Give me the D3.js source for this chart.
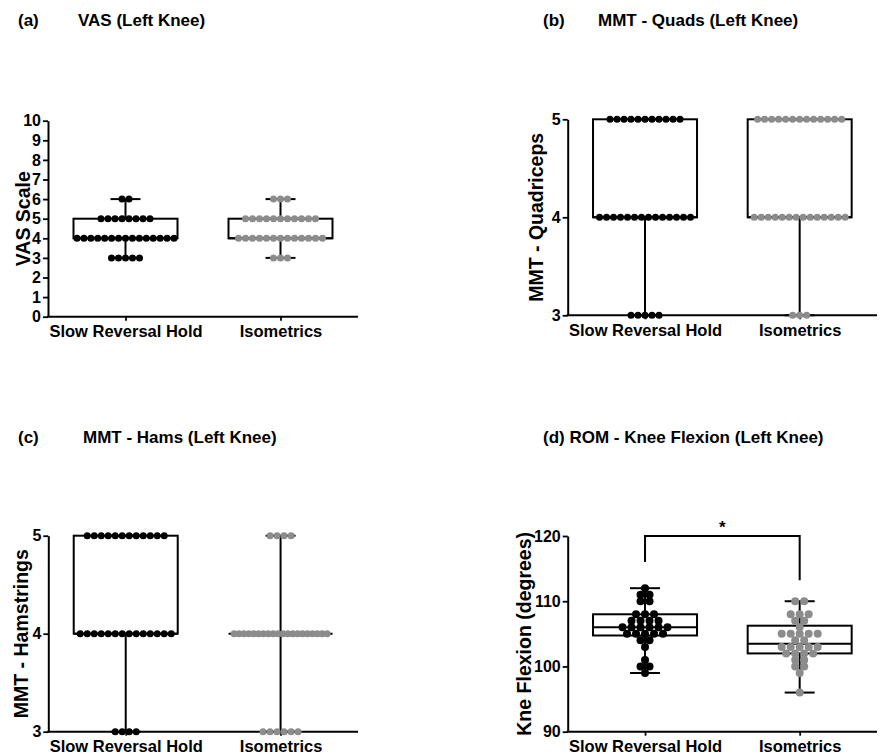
<!DOCTYPE html>
<html>
<head>
<meta charset="utf-8">
<title>Knee outcomes</title>
<style>
    body { margin: 0; background: #fff; }
    svg { display: block; }
    text { font-family: "Liberation Sans", Arial, sans-serif; font-weight: bold; fill: #000; }
    .title { font-family: "Liberation Sans Narrow", "Liberation Sans", sans-serif; font-size: 17px; }
</style>
</head>
<body>
<script src="https://cdn.jsdelivr.net/npm/d3@7/dist/d3.min.js"></script>
<script>
// groups on the x axis
var groups = ["Slow Reversal Hold", "Isometrics"];

// (a) VAS
var vasSlow = [3,3,3,3,3, 4,4,4,4,4,4,4,4,4,4,4,4,4,4,4, 5,5,5,5,5,5,5,5, 6,6];
var vasIso  = [3,3,3, 4,4,4,4,4,4,4,4,4,4,4,4,4, 5,5,5,5,5,5,5,5,5,5,5, 6,6,6];
var vasTicks = [0,1,2,3,4,5,6,7,8,9,10];

// (b) MMT quads
var quadSlow = [3,3,3,3,3, 4,4,4,4,4,4,4,4,4,4,4,4,4,4, 5,5,5,5,5,5,5,5,5,5,5];
var quadIso  = [3,3,3, 4,4,4,4,4,4,4,4,4,4,4,4,4,4, 5,5,5,5,5,5,5,5,5,5,5,5,5];
var mmtTicks = [3,4,5];

// (c) MMT hams
var hamSlow = [3,3,3,3, 4,4,4,4,4,4,4,4,4,4,4,4,4,4, 5,5,5,5,5,5,5,5,5,5,5,5];
var hamIso  = [3,3,3,3,3,3, 4,4,4,4,4,4,4,4,4,4,4,4,4,4,4,4,4,4,4,4, 5,5,5,5];

// (d) ROM knee flexion
var romSlow = [99,100,100,101,103,104,104,105,105,105,105,105,106,106,106,106,106,106,
               107,107,107,107,108,108,108,110,110,111,111,112];
var romIso  = [96,99,100,100,101,101,102,102,102,102,103,103,103,103,103,104,104,
               105,105,105,105,105,106,107,107,108,108,108,110,110];
var romTicks = [90,100,110,120];
var romSig = [{from: 0, to: 1, top: 120, leftEnd: 116, rightEnd: 113.2, mark: "*"}];

var dotColors = ["#000000", "#8c8c8c"];

var panels = [
    {tag: "(a)", title: "VAS (Left Knee)", titleX: 78, titleY: 26, ylabel: "VAS Scale",
     series: [vasSlow, vasIso], domain: [0, 10], ticks: vasTicks,
     x0: 48, x1: 358, top: 120.7, bottom: 316.7, labelX: 23, r: 3.5, gap: 7, maxSpread: 97},
    {tag: "(b)", title: "MMT - Quads (Left Knee)", titleX: 598, titleY: 26, tagX: 543, ylabel: "MMT - Quadriceps",
     series: [quadSlow, quadIso], domain: [3, 5], ticks: mmtTicks,
     x0: 567.7, x1: 877, top: 119.3, bottom: 315.3, labelX: 536, r: 3.5, gap: 7, maxSpread: 97},
    {tag: "(c)", title: "MMT - Hams (Left Knee)", titleX: 83, titleY: 443, ylabel: "MMT - Hamstrings",
     series: [hamSlow, hamIso], domain: [3, 5], ticks: mmtTicks,
     x0: 48.3, x1: 358, top: 535.7, bottom: 731.7, labelX: 21, r: 3.5, gap: 7, maxSpread: 93},
    {tag: "", title: "(d) ROM - Knee Flexion (Left Knee)", titleX: 543, titleY: 443, ylabel: "Kne Flexion (degrees)",
     series: [romSlow, romIso], domain: [90, 120], ticks: romTicks, sig: romSig,
     x0: 567.7, x1: 877, top: 536, bottom: 731.7, labelX: 524, r: 4, gap: 9, maxSpread: 130}
];

var W = 880, H = 754;
var svg = d3.select("body").append("svg").attr("width", W).attr("height", H);

// percentile the way Prism does it: position p*(n+1)
function pct(sorted, p) {
    var n = sorted.length, pos = p * (n + 1);
    if (pos <= 1) return sorted[0];
    if (pos >= n) return sorted[n - 1];
    var lo = Math.floor(pos), f = pos - lo;
    return sorted[lo - 1] + f * (sorted[lo] - sorted[lo - 1]);
}

// rows of equal values, spread sideways and centred
function rowLayout(s, y, cx, p) {
    var out = [];
    d3.rollups(s, function (v) { return v.length; }, function (d) { return d; }).forEach(function (c) {
        var n = c[1], step = p.gap;
        if ((n - 1) * step > p.maxSpread) step = p.maxSpread / (n - 1);
        for (var k = 0; k < n; k++) out.push([cx + (k - (n - 1) / 2) * step, y(c[0])]);
    });
    return out;
}

panels.forEach(function (p) {
    var g = svg.append("g");

    // titles
    if (p.tag) {
        g.append("text").attr("class", "title").attr("x", p.tagX || 18).attr("y", p.titleY).text(p.tag);
    }
    g.append("text").attr("class", "title").attr("x", p.titleX).attr("y", p.titleY).text(p.title);

    var y = d3.scaleLinear().domain(p.domain).range([p.bottom, p.top]);
    var x = d3.scalePoint().domain(groups).range([p.x0, p.x1]).padding(0.5);

    // y axis
    var yAxis = g.append("g").attr("transform", "translate(" + p.x0 + ",0)")
        .call(d3.axisLeft(y).tickValues(p.ticks).tickFormat(d3.format("d"))
            .tickSize(5).tickPadding(2).tickSizeOuter(0));
    yAxis.select(".domain").attr("stroke-width", 2);
    yAxis.selectAll(".tick line").attr("stroke-width", 1.8);
    yAxis.selectAll("text").attr("font-size", 16).attr("font-family", null);

    // x axis
    var xAxis = g.append("g").attr("transform", "translate(0," + p.bottom + ")")
        .call(d3.axisBottom(x).tickSize(4).tickPadding(5).tickSizeOuter(0));
    xAxis.select(".domain").attr("d", "M" + (p.x0 - 1) + ",0H" + p.x1).attr("stroke-width", 2);
    xAxis.selectAll(".tick line").attr("stroke-width", 1.8);
    xAxis.selectAll("text").attr("font-size", 16.5).attr("font-family", null);

    // y label
    g.append("text")
        .attr("transform", "translate(" + p.labelX + "," + ((p.top + p.bottom) / 2) + ") rotate(-90)")
        .attr("text-anchor", "middle").attr("dominant-baseline", "central")
        .attr("font-size", 19.5).text(p.ylabel);

    p.series.forEach(function (vals, si) {
        var s = vals.slice().sort(d3.ascending);
        var cx = x(groups[si]);
        var q1 = pct(s, 0.25), med = pct(s, 0.5), q3 = pct(s, 0.75);
        var lo = s[0], hi = s[s.length - 1];
        var half = 52, cap = 15;
        var bg = g.append("g").attr("fill", "none").attr("stroke", "#000").attr("stroke-width", 2);

        // whiskers
        bg.append("line").attr("x1", cx).attr("x2", cx).attr("y1", y(hi)).attr("y2", y(q3));
        bg.append("line").attr("x1", cx).attr("x2", cx).attr("y1", y(q1)).attr("y2", y(lo));
        bg.append("line").attr("x1", cx - cap).attr("x2", cx + cap).attr("y1", y(hi)).attr("y2", y(hi));
        bg.append("line").attr("x1", cx - cap).attr("x2", cx + cap).attr("y1", y(lo)).attr("y2", y(lo));
        // box
        bg.append("rect").attr("x", cx - half).attr("y", y(q3))
            .attr("width", half * 2).attr("height", Math.max(0, y(q1) - y(q3)));
        bg.append("line").attr("x1", cx - half).attr("x2", cx + half).attr("y1", y(med)).attr("y2", y(med));

        var pts = rowLayout(s, y, cx, p);
        g.append("g").selectAll("circle").data(pts).join("circle")
            .attr("cx", function (d) { return d[0]; })
            .attr("cy", function (d) { return d[1]; })
            .attr("r", p.r)
            .attr("fill", dotColors[si]);
    });

    // significance bracket
    if (p.sig) {
        p.sig.forEach(function (b) {
            var xa = x(groups[b.from]), xb = x(groups[b.to]);
            g.append("path")
                .attr("d", "M" + xa + "," + y(b.leftEnd) + "V" + y(b.top) + "H" + xb + "V" + y(b.rightEnd))
                .attr("fill", "none").attr("stroke", "#000").attr("stroke-width", 2);
            g.append("text").attr("x", (xa + xb) / 2).attr("y", y(b.top) - 3)
                .attr("text-anchor", "middle").attr("font-size", 17).attr("font-weight", "normal").text(b.mark);
        });
    }
});
</script>
</body>
</html>
